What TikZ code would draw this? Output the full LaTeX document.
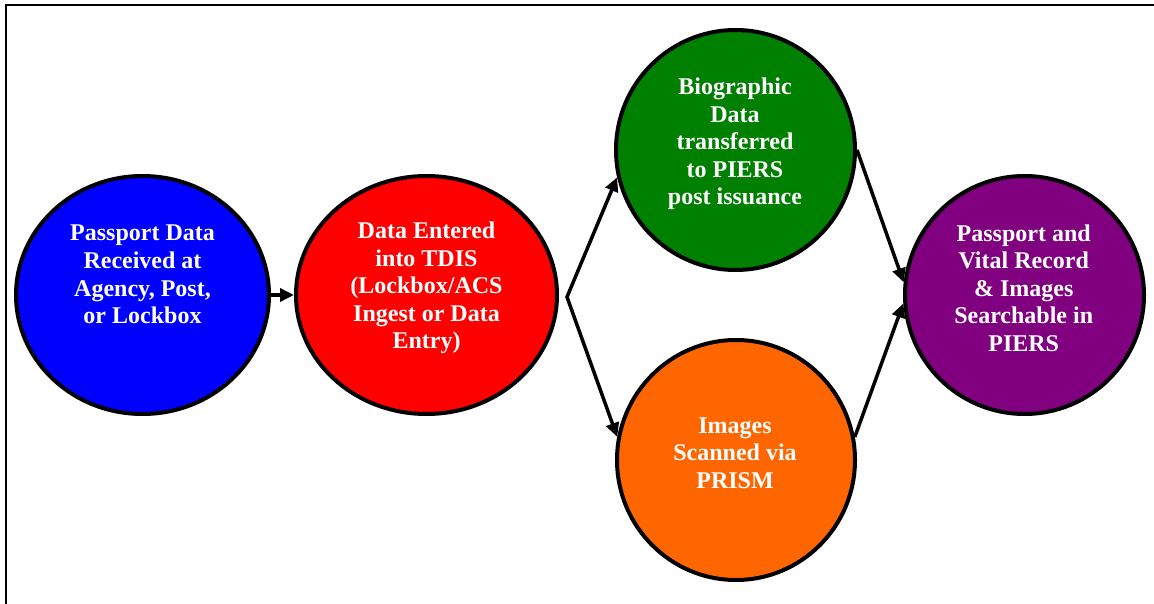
\documentclass[tikz,border=0pt]{standalone}
\usepackage{fontspec}
\setmainfont{Liberation Serif}
\usetikzlibrary{shapes.geometric,arrows.meta}
\definecolor{cblue}{RGB}{0,0,255}
\definecolor{cred}{RGB}{255,0,0}
\definecolor{cgreen}{RGB}{0,128,0}
\definecolor{corange}{RGB}{255,102,0}
\definecolor{cpurple}{RGB}{128,0,128}
\begin{document}
\begin{tikzpicture}[x=1pt,y=-1pt,
  bubble/.style={ellipse,draw=black,line width=4pt,inner sep=0pt},
  bubbletext/.style={text=white,font=\bfseries\fontsize{24}{27.6}\selectfont,align=center,inner sep=0pt},
  tip/.tip={Triangle[length=14pt,width=13pt]},
  flow/.style={line width=3.5pt,line join=miter}]
\useasboundingbox (0,0) rectangle (1154,604);
\draw[line width=2.5pt] (6,5) rectangle (1170,620);
% circles
\node[bubble,fill=cblue,minimum width=253pt,minimum height=238pt] (b1) at (142.5,295) {};
\node[bubble,fill=cred,minimum width=261pt,minimum height=238pt] (r1) at (426.5,295) {};
\node[bubble,fill=cgreen,minimum width=239pt,minimum height=240pt] (g1) at (735.5,150) {};
\node[bubble,fill=corange,minimum width=238pt,minimum height=240pt] (o1) at (736,460) {};
\node[bubble,fill=cpurple,minimum width=239pt,minimum height=238pt] (p1) at (1024.5,295) {};
% texts
\node[bubbletext] (t1) at (142.5,274.5) {Passport Data\\Received at\\Agency, Post,\\or Lockbox};
\node[bubbletext] (t2) at (426.5,288) {Data Entered\\into TDIS\\(Lockbox/ACS\\Ingest or Data\\Entry)};
\node[bubbletext] (t3) at (735,144) {Biographic\\Data\\transferred\\to PIERS\\post issuance};
\node[bubbletext] (t4) at (735,453) {Images\\Scanned via\\PRISM};
\node[bubbletext] (t5) at (1023.7,288) {Passport and\\Vital Record\\\& Images\\Searchable in\\PIERS};
% connectors
\coordinate (j) at ([xshift=8pt,yshift=-2pt]r1.east);
\draw[flow,-tip] (b1.east) -- (r1.west);
\draw[flow,tip-tip] (g1.193) -- (j) -- (o1.169);
\draw[flow,-tip] (g1.0) -- (p1.174);
\draw[flow,-tip] (o1.11) -- (p1.184);
\end{tikzpicture}
\end{document}
